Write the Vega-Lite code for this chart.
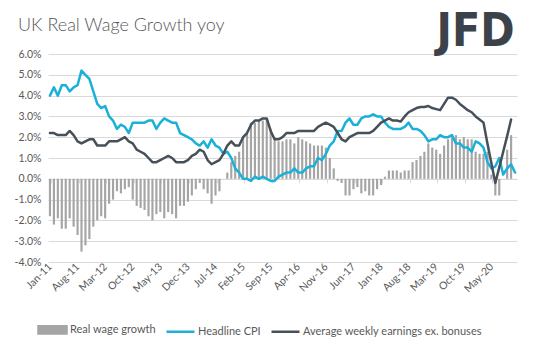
{
  "$schema": "https://vega.github.io/schema/vega-lite/v6.json",
  "width": 469,
  "height": 208,
  "autosize": {"type": "none"},
  "padding": {"left": 48, "top": 54, "right": 26, "bottom": 89},
  "background": "white",
  "title": {"text": "UK Real Wage Growth yoy", "anchor": "start", "frame": "group", "dx": -30, "dy": 41, "offset": 0, "baseline": "alphabetic", "font": "Lato", "fontSize": 18, "fontWeight": 300, "color": "#595959"},
  "config": {"view": {"stroke": null}, "font": "Lato"},
  "data": {"values": [
    {"m":"Jan-11","cpi":4.0,"awe":2.2,"real":-1.8},
    {"m":"Feb-11","cpi":4.4,"awe":2.2,"real":-2.2},
    {"m":"Mar-11","cpi":4.0,"awe":2.1,"real":-1.9},
    {"m":"Apr-11","cpi":4.5,"awe":2.1,"real":-2.4},
    {"m":"May-11","cpi":4.5,"awe":2.1,"real":-2.4},
    {"m":"Jun-11","cpi":4.2,"awe":2.3,"real":-1.9},
    {"m":"Jul-11","cpi":4.4,"awe":2.1,"real":-2.3},
    {"m":"Aug-11","cpi":4.5,"awe":1.8,"real":-2.7},
    {"m":"Sep-11","cpi":5.2,"awe":1.7,"real":-3.5},
    {"m":"Oct-11","cpi":5.0,"awe":1.8,"real":-3.2},
    {"m":"Nov-11","cpi":4.8,"awe":1.9,"real":-2.9},
    {"m":"Dec-11","cpi":4.2,"awe":1.9,"real":-2.3},
    {"m":"Jan-12","cpi":3.6,"awe":1.6,"real":-2.0},
    {"m":"Feb-12","cpi":3.4,"awe":1.6,"real":-1.8},
    {"m":"Mar-12","cpi":3.5,"awe":1.6,"real":-1.9},
    {"m":"Apr-12","cpi":3.0,"awe":1.8,"real":-1.2},
    {"m":"May-12","cpi":2.8,"awe":1.8,"real":-1.0},
    {"m":"Jun-12","cpi":2.4,"awe":1.8,"real":-0.6},
    {"m":"Jul-12","cpi":2.6,"awe":1.9,"real":-0.7},
    {"m":"Aug-12","cpi":2.5,"awe":2.0,"real":-0.5},
    {"m":"Sep-12","cpi":2.2,"awe":1.8,"real":-0.4},
    {"m":"Oct-12","cpi":2.7,"awe":1.7,"real":-1.0},
    {"m":"Nov-12","cpi":2.7,"awe":1.4,"real":-1.3},
    {"m":"Dec-12","cpi":2.7,"awe":1.3,"real":-1.4},
    {"m":"Jan-13","cpi":2.7,"awe":1.2,"real":-1.5},
    {"m":"Feb-13","cpi":2.8,"awe":1.0,"real":-1.8},
    {"m":"Mar-13","cpi":2.8,"awe":0.8,"real":-2.0},
    {"m":"Apr-13","cpi":2.4,"awe":0.8,"real":-1.7},
    {"m":"May-13","cpi":2.7,"awe":0.9,"real":-1.6},
    {"m":"Jun-13","cpi":2.9,"awe":1.0,"real":-1.9},
    {"m":"Jul-13","cpi":2.8,"awe":1.1,"real":-1.6},
    {"m":"Aug-13","cpi":2.7,"awe":1.0,"real":-1.7},
    {"m":"Sep-13","cpi":2.7,"awe":0.8,"real":-1.9},
    {"m":"Oct-13","cpi":2.2,"awe":0.8,"real":-1.3},
    {"m":"Nov-13","cpi":2.1,"awe":0.8,"real":-1.3},
    {"m":"Dec-13","cpi":2.0,"awe":0.9,"real":-1.1},
    {"m":"Jan-14","cpi":1.9,"awe":1.1,"real":-0.8},
    {"m":"Feb-14","cpi":1.7,"awe":1.2,"real":-0.5},
    {"m":"Mar-14","cpi":1.6,"awe":1.4,"real":-0.2},
    {"m":"Apr-14","cpi":1.8,"awe":1.3,"real":-0.5},
    {"m":"May-14","cpi":1.5,"awe":0.9,"real":-0.7},
    {"m":"Jun-14","cpi":1.9,"awe":0.7,"real":-1.2},
    {"m":"Jul-14","cpi":1.6,"awe":0.8,"real":-0.8},
    {"m":"Aug-14","cpi":1.5,"awe":0.9,"real":-0.6},
    {"m":"Sep-14","cpi":1.2,"awe":1.2,"real":0.0},
    {"m":"Oct-14","cpi":1.3,"awe":1.6,"real":0.3},
    {"m":"Nov-14","cpi":1.0,"awe":1.8,"real":0.8},
    {"m":"Dec-14","cpi":0.5,"awe":1.6,"real":1.1},
    {"m":"Jan-15","cpi":0.3,"awe":1.6,"real":1.3},
    {"m":"Feb-15","cpi":0.0,"awe":2.0,"real":2.0},
    {"m":"Mar-15","cpi":0.0,"awe":2.2,"real":2.2},
    {"m":"Apr-15","cpi":-0.1,"awe":2.6,"real":2.7},
    {"m":"May-15","cpi":0.1,"awe":2.8,"real":2.7},
    {"m":"Jun-15","cpi":0.0,"awe":2.8,"real":2.8},
    {"m":"Jul-15","cpi":0.1,"awe":2.9,"real":2.8},
    {"m":"Aug-15","cpi":0.0,"awe":2.9,"real":2.9},
    {"m":"Sep-15","cpi":-0.1,"awe":2.3,"real":2.4},
    {"m":"Oct-15","cpi":-0.1,"awe":1.9,"real":2.0},
    {"m":"Nov-15","cpi":0.1,"awe":1.9,"real":1.8},
    {"m":"Dec-15","cpi":0.2,"awe":2.0,"real":1.8},
    {"m":"Jan-16","cpi":0.3,"awe":2.2,"real":1.9},
    {"m":"Feb-16","cpi":0.3,"awe":2.2,"real":1.9},
    {"m":"Mar-16","cpi":0.5,"awe":2.2,"real":1.7},
    {"m":"Apr-16","cpi":0.3,"awe":2.3,"real":2.0},
    {"m":"May-16","cpi":0.3,"awe":2.3,"real":1.9},
    {"m":"Jun-16","cpi":0.5,"awe":2.3,"real":1.8},
    {"m":"Jul-16","cpi":0.6,"awe":2.3,"real":1.7},
    {"m":"Aug-16","cpi":0.6,"awe":2.3,"real":1.6},
    {"m":"Sep-16","cpi":1.0,"awe":2.5,"real":1.6},
    {"m":"Oct-16","cpi":0.9,"awe":2.6,"real":1.6},
    {"m":"Nov-16","cpi":1.2,"awe":2.7,"real":1.5},
    {"m":"Dec-16","cpi":1.6,"awe":2.6,"real":1.0},
    {"m":"Jan-17","cpi":1.8,"awe":2.5,"real":0.5},
    {"m":"Feb-17","cpi":2.3,"awe":2.2,"real":-0.1},
    {"m":"Mar-17","cpi":2.3,"awe":1.9,"real":-0.2},
    {"m":"Apr-17","cpi":2.7,"awe":1.8,"real":-0.8},
    {"m":"May-17","cpi":2.9,"awe":2.0,"real":-0.8},
    {"m":"Jun-17","cpi":2.6,"awe":2.1,"real":-0.5},
    {"m":"Jul-17","cpi":2.6,"awe":2.2,"real":-0.4},
    {"m":"Aug-17","cpi":2.9,"awe":2.2,"real":-0.7},
    {"m":"Sep-17","cpi":3.0,"awe":2.2,"real":-0.6},
    {"m":"Oct-17","cpi":3.0,"awe":2.2,"real":-0.8},
    {"m":"Nov-17","cpi":3.1,"awe":2.3,"real":-0.8},
    {"m":"Dec-17","cpi":3.0,"awe":2.5,"real":-0.5},
    {"m":"Jan-18","cpi":3.0,"awe":2.7,"real":-0.3},
    {"m":"Feb-18","cpi":2.7,"awe":2.8,"real":0.1},
    {"m":"Mar-18","cpi":2.5,"awe":2.9,"real":0.4},
    {"m":"Apr-18","cpi":2.4,"awe":2.8,"real":0.4},
    {"m":"May-18","cpi":2.4,"awe":2.8,"real":0.4},
    {"m":"Jun-18","cpi":2.4,"awe":2.75,"real":0.3},
    {"m":"Jul-18","cpi":2.5,"awe":3.0,"real":0.4},
    {"m":"Aug-18","cpi":2.7,"awe":3.2,"real":0.4},
    {"m":"Sep-18","cpi":2.4,"awe":3.3,"real":0.8},
    {"m":"Oct-18","cpi":2.4,"awe":3.4,"real":0.9},
    {"m":"Nov-18","cpi":2.3,"awe":3.45,"real":1.1},
    {"m":"Dec-18","cpi":2.1,"awe":3.45,"real":1.3},
    {"m":"Jan-19","cpi":1.8,"awe":3.5,"real":1.7},
    {"m":"Feb-19","cpi":1.9,"awe":3.4,"real":1.5},
    {"m":"Mar-19","cpi":1.9,"awe":3.35,"real":1.4},
    {"m":"Apr-19","cpi":2.1,"awe":3.3,"real":1.2},
    {"m":"May-19","cpi":2.0,"awe":3.6,"real":1.6},
    {"m":"Jun-19","cpi":2.0,"awe":3.9,"real":1.9},
    {"m":"Jul-19","cpi":2.1,"awe":3.9,"real":2.0},
    {"m":"Aug-19","cpi":1.7,"awe":3.8,"real":2.1},
    {"m":"Sep-19","cpi":1.7,"awe":3.6,"real":1.9},
    {"m":"Oct-19","cpi":1.5,"awe":3.45,"real":2.0},
    {"m":"Nov-19","cpi":1.5,"awe":3.3,"real":1.9},
    {"m":"Dec-19","cpi":1.3,"awe":3.2,"real":1.9},
    {"m":"Jan-20","cpi":1.8,"awe":3.0,"real":1.3},
    {"m":"Feb-20","cpi":1.7,"awe":2.85,"real":1.2},
    {"m":"Mar-20","cpi":1.5,"awe":2.7,"real":1.2},
    {"m":"Apr-20","cpi":0.8,"awe":1.7,"real":1.3},
    {"m":"May-20","cpi":0.5,"awe":0.75,"real":0.2},
    {"m":"Jun-20","cpi":0.6,"awe":-0.2,"real":-0.8},
    {"m":"Jul-20","cpi":1.0,"awe":0.55,"real":-0.8},
    {"m":"Aug-20","cpi":0.2,"awe":1.3,"real":0.0},
    {"m":"Sep-20","cpi":0.5,"awe":2.05,"real":1.4},
    {"m":"Oct-20","cpi":0.7,"awe":2.85,"real":2.1},
    {"m":"Nov-20","cpi":0.3,"awe":null,"real":null}
  ]},
  "encoding": {
    "x": {
      "field": "m", "type": "nominal", "sort": null,
      "scale": {"paddingInner": 0.45, "paddingOuter": 0.225},
      "axis": {
        "title": null,
        "values": ["Jan-11","Aug-11","Mar-12","Oct-12","May-13","Dec-13","Jul-14","Feb-15","Sep-15","Apr-16","Nov-16","Jun-17","Jan-18","Aug-18","Mar-19","Oct-19","May-20"],
        "tickBand": "extent", "tickExtra": false,
        "offset": -83.2, "labelPadding": 82,
        "labelAngle": -45, "labelAlign": "right", "labelBaseline": "middle",
        "labelOverlap": false, "labelFont": "Lato", "labelFontSize": 10.5, "labelColor": "#595959",
        "tickSize": 4, "tickColor": "#d9d9d9", "domainColor": "#d9d9d9", "grid": false
      }
    }
  },
  "layer": [
    {
      "mark": {"type": "bar"},
      "encoding": {
        "y": {
          "field": "real", "type": "quantitative",
          "scale": {"domain": [-4, 6], "nice": false},
          "axis": {
            "values": [-4,-3,-2,-1,0,1,2,3,4,5,6],
            "tickCount": 20,
            "labelExpr": "(datum.value < 0 ? '-' : '') + format(abs(datum.value), '.1f') + '%'",
            "labelOverlap": false,
            "domain": false, "ticks": false, "grid": true, "gridColor": "#d9d9d9",
            "labelPadding": 7, "labelFont": "Lato", "labelFontSize": 10.5, "labelColor": "#595959",
            "title": "JFD", "titleAngle": 0, "titleX": 388, "titleY": -9,
            "titleAlign": "left", "titleBaseline": "alphabetic",
            "titleFont": "DejaVu Sans Condensed, Liberation Sans", "titleFontSize": 46, "titleFontWeight": "bold", "titleColor": "#3c4249"
          }
        },
        "color": {
          "datum": "Real wage growth",
          "scale": {"domain": ["Real wage growth", "Headline CPI", "Average weekly earnings ex. bonuses"], "range": ["#a5a5a5", "#1bb0d8", "#46505a"]},
          "legend": {
            "orient": "none", "legendX": -11, "legendY": 260, "direction": "horizontal", "columns": 3, "title": null,
            "labelFont": "Lato", "labelFontSize": 11, "labelColor": "#595959", "labelOffset": 2, "columnPadding": 5,
            "labelLimit": 300,
            "symbolSize": 784,
            "encode": {"symbols": {"update": {
              "shape": {"signal": "datum.value === 'Real wage growth' ? 'M-1,-0.26H1V0.26H-1Z' : 'M-1,0H1'"},
              "fill": {"signal": "datum.value === 'Real wage growth' ? '#a5a5a5' : 'transparent'"},
              "stroke": {"signal": "datum.value === 'Real wage growth' ? 'transparent' : (datum.value === 'Headline CPI' ? '#1bb0d8' : '#46505a')"},
              "strokeWidth": {"value": 2.5},
              "opacity": {"value": 1}
            }}}
          }
        }
      }
    },
    {
      "mark": {"type": "line", "strokeWidth": 2.5, "strokeJoin": "round", "strokeCap": "round"},
      "encoding": {
        "y": {"field": "cpi", "type": "quantitative", "axis": {"values": [-4,-3,-2,-1,0,1,2,3,4,5,6], "tickCount": 20, "labelOverlap": false}},
        "color": {"datum": "Headline CPI"}
      }
    },
    {
      "mark": {"type": "line", "strokeWidth": 2.5, "strokeJoin": "round", "strokeCap": "round"},
      "encoding": {
        "y": {"field": "awe", "type": "quantitative", "axis": {"values": [-4,-3,-2,-1,0,1,2,3,4,5,6], "tickCount": 20, "labelOverlap": false}},
        "color": {"datum": "Average weekly earnings ex. bonuses"}
      }
    }
  ]
}
